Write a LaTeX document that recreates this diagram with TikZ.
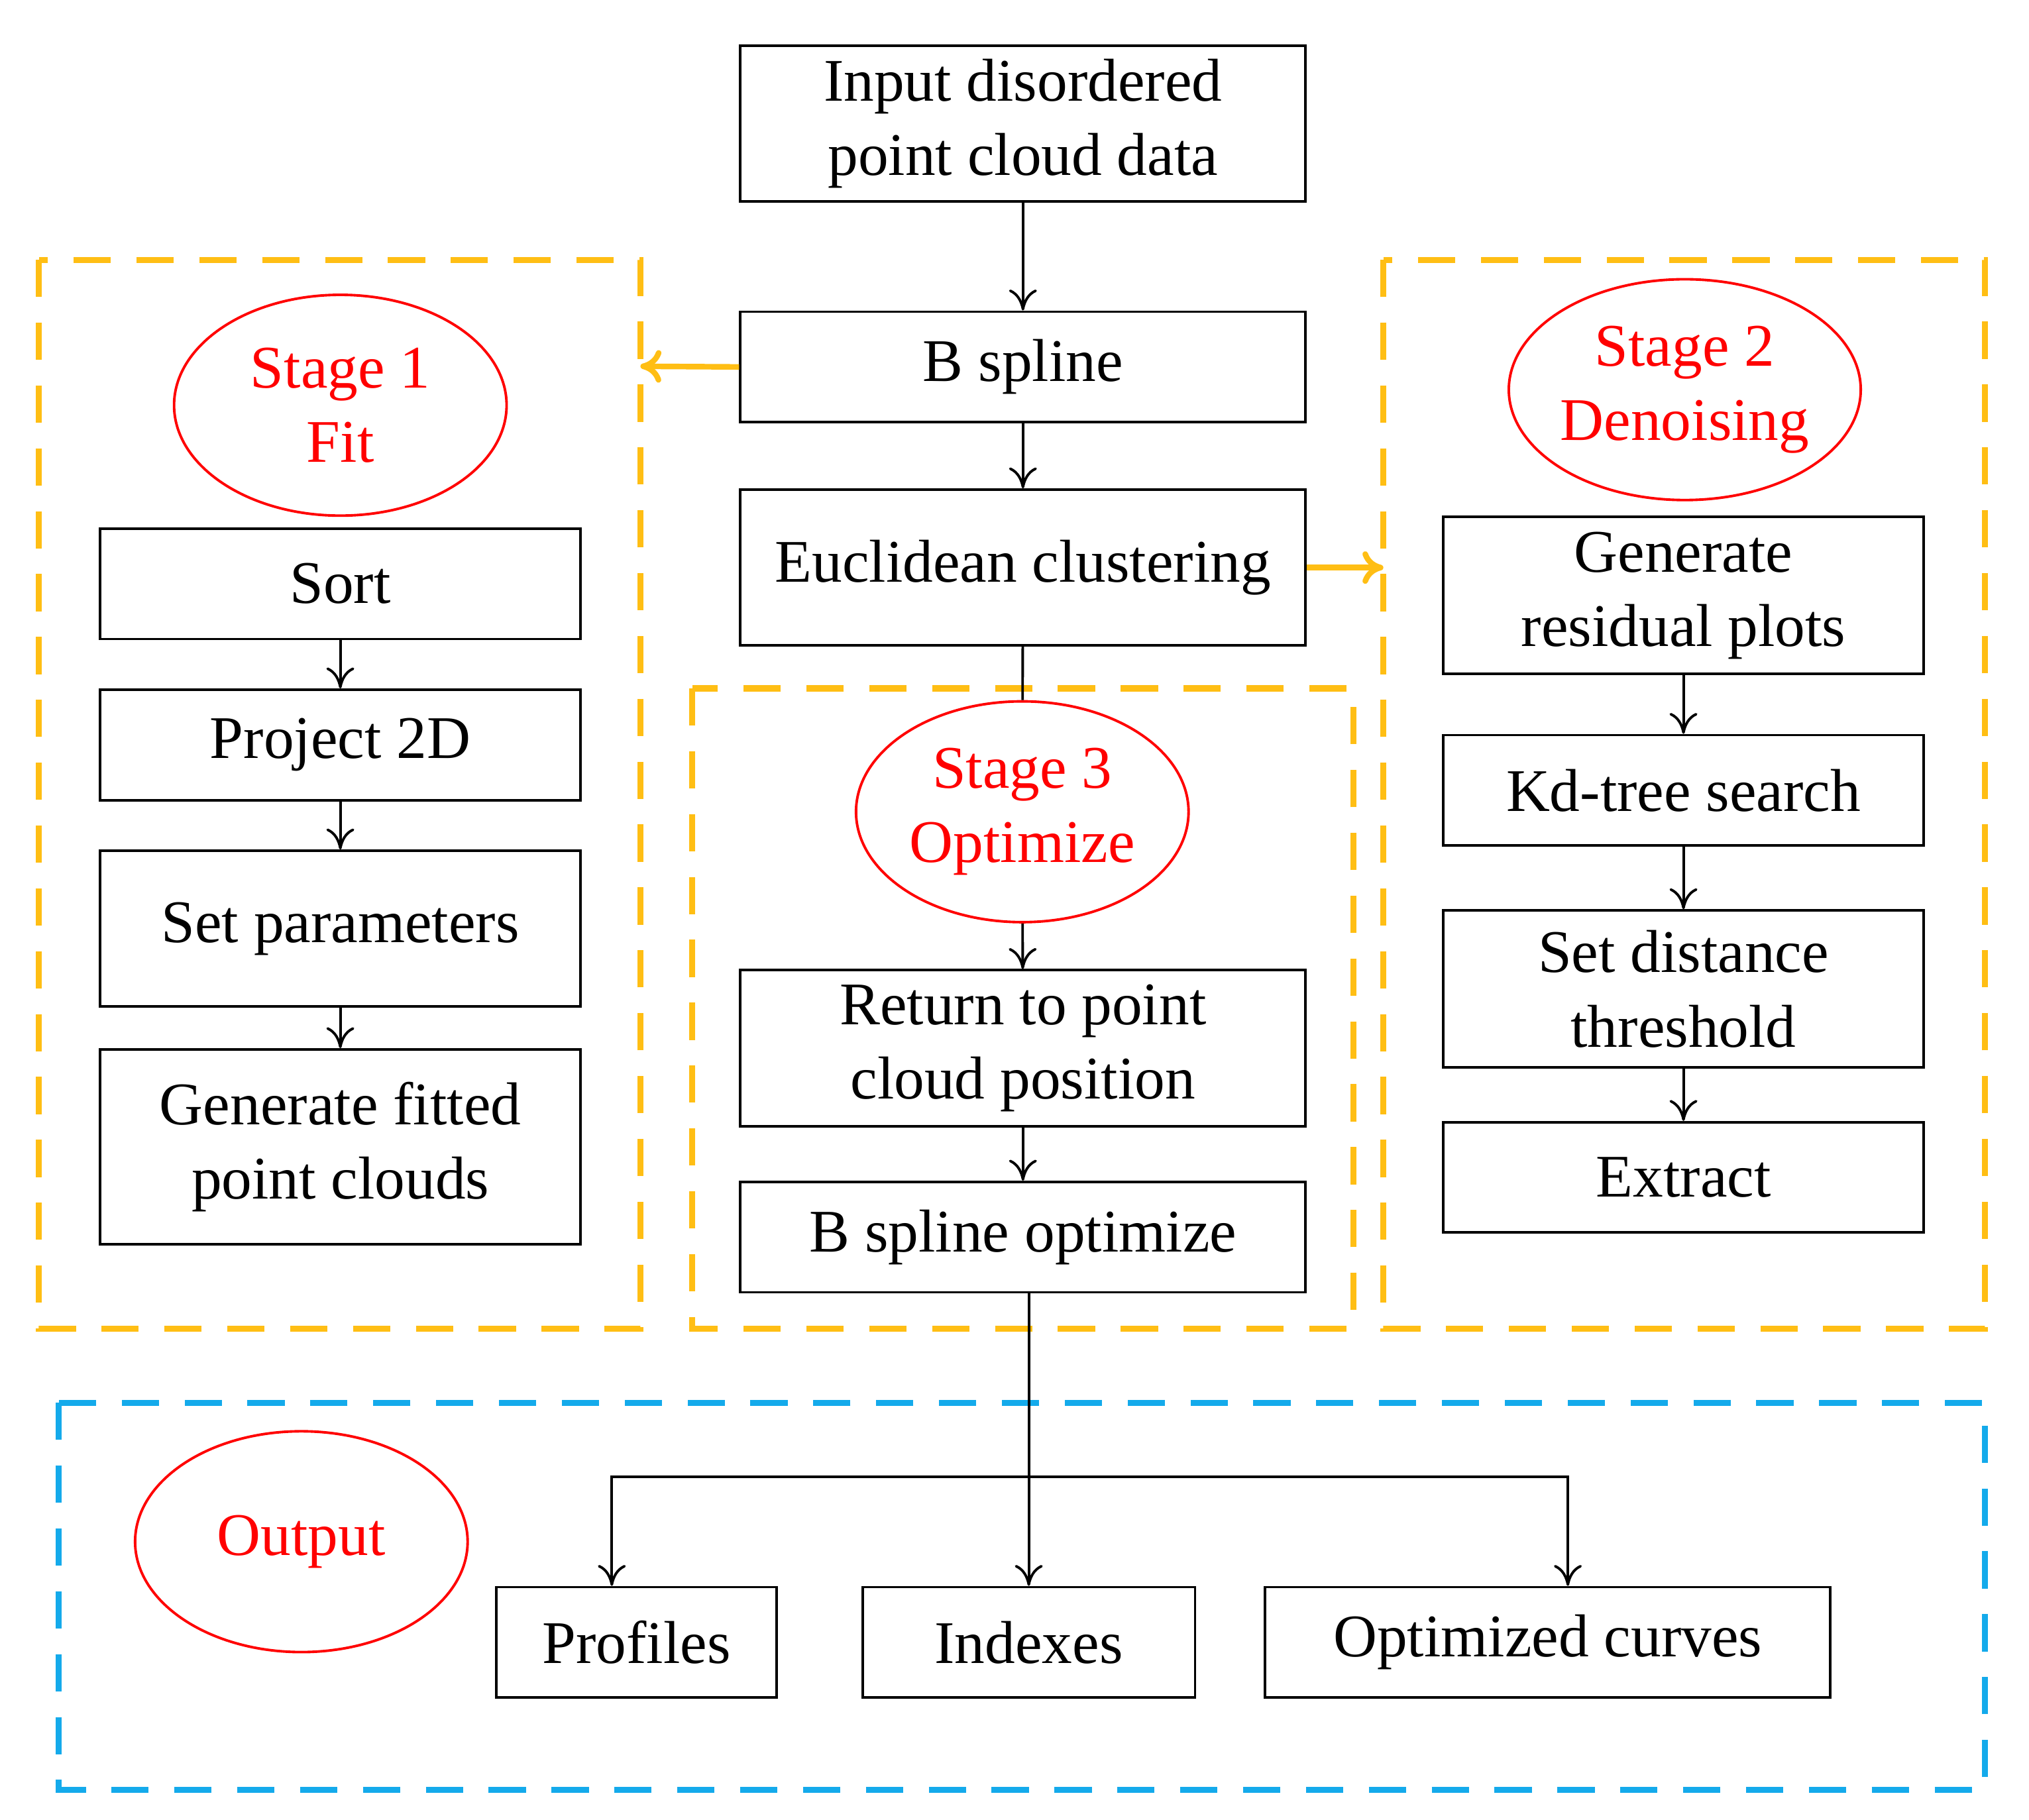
\documentclass[tikz,border=0pt]{standalone}
\usepackage{fontspec}
\setmainfont{Liberation Serif}
\usetikzlibrary{shapes.geometric,arrows.meta}
\definecolor{org}{RGB}{255,190,20}
\definecolor{blu}{RGB}{20,170,235}
\begin{document}
\begin{tikzpicture}[x=0.0196cm,y=-0.0196cm,
 box/.style={draw,line width=1.1pt,inner sep=0pt,font=\fontsize{26}{32}\selectfont,align=center},
 ell/.style={draw=red,ellipse,line width=1.1pt,minimum width=256*0.0196cm,minimum height=170*0.0196cm,inner sep=0pt,text=red,font=\fontsize{26}{32}\selectfont,align=center},
 arr/.style={line width=1.1pt,-{To[length=9pt,width=12pt]}},
 oarr/.style={org,line width=2.4pt,-{To[length=9pt,width=14pt]}},
 grp/.style={dash pattern=on 16pt off 11pt,line width=2.6pt}]
\useasboundingbox (0,0) rectangle (1562,1401);
\newcommand\bx[6]{\node[box,minimum width=(#4-#2)*0.0196cm,minimum height=(#5-#3)*0.0196cm] (#1) at ({(#2+#4)/2},{(#3+#5)/2}) {#6};}
\bx{inp}{570}{35}{1005}{155}{Input disordered\\point cloud data}
\bx{bs}{570}{240}{1005}{325}{B spline}
\bx{eu}{570}{377}{1005}{497}{Euclidean clustering}
\bx{ret}{570}{747}{1005}{867}{Return to point\\cloud position}
\bx{bo}{570}{910}{1005}{995}{B spline optimize}
\bx{so}{77}{407}{447}{492}{Sort}
\bx{pr}{77}{531}{447}{616}{Project 2D}
\bx{sp}{77}{655}{447}{775}{Set parameters}
\bx{gf}{77}{808}{447}{958}{Generate fitted\\point clouds}
\bx{gr}{1111}{398}{1481}{519}{Generate\\residual plots}
\bx{kd}{1111}{566}{1481}{651}{Kd-tree search}
\bx{sd}{1111}{701}{1481}{822}{Set distance\\threshold}
\bx{ex}{1111}{864}{1481}{949}{Extract}
\bx{pf}{382}{1222}{598}{1307}{Profiles}
\bx{ix}{664}{1222}{920}{1307}{Indexes}
\bx{oc}{974}{1222}{1409}{1307}{Optimized curves}
\node[ell] (s1) at (262,312) {Stage 1\\Fit};
\node[ell] (s2) at (1297,300) {Stage 2\\Denoising};
\node[ell] (s3) at (787,625) {Stage 3\\Optimize};
\node[ell] (out) at (232,1187) {Output};
\draw[grp,org] (30,200) rectangle (493,1023);
\draw[grp,org] (1065,200) rectangle (1528,1023);
\draw[grp,org] (533,530) rectangle (1042,1023);
\draw[grp,blu] (45,1080) rectangle (1528,1378);
\coordinate (l1) at (493,282); \coordinate (r1) at (1065,437);
\draw[arr] (inp) -- (bs);
\draw[arr] (bs) -- (eu);
\draw[oarr] (bs.west) -- (l1);
\draw[oarr] (eu.east) -- (r1);
\draw[line width=1.1pt] (eu) -- (s3);
\draw[arr] (s3) -- (ret);
\draw[arr] (ret) -- (bo);
\draw[arr] (so) -- (pr); \draw[arr] (pr) -- (sp); \draw[arr] (sp) -- (gf);
\draw[arr] (gr) -- (kd); \draw[arr] (kd) -- (sd); \draw[arr] (sd) -- (ex);
\coordinate (bj) at (792,1137);
\draw[arr] (bo.south -| bj) -- (ix.north -| bj);
\draw[arr] (bj) -| (pf.north -| 471,0);
\draw[arr] (bj) -| (oc.north -| 1207,0);
\end{tikzpicture}
\end{document}
